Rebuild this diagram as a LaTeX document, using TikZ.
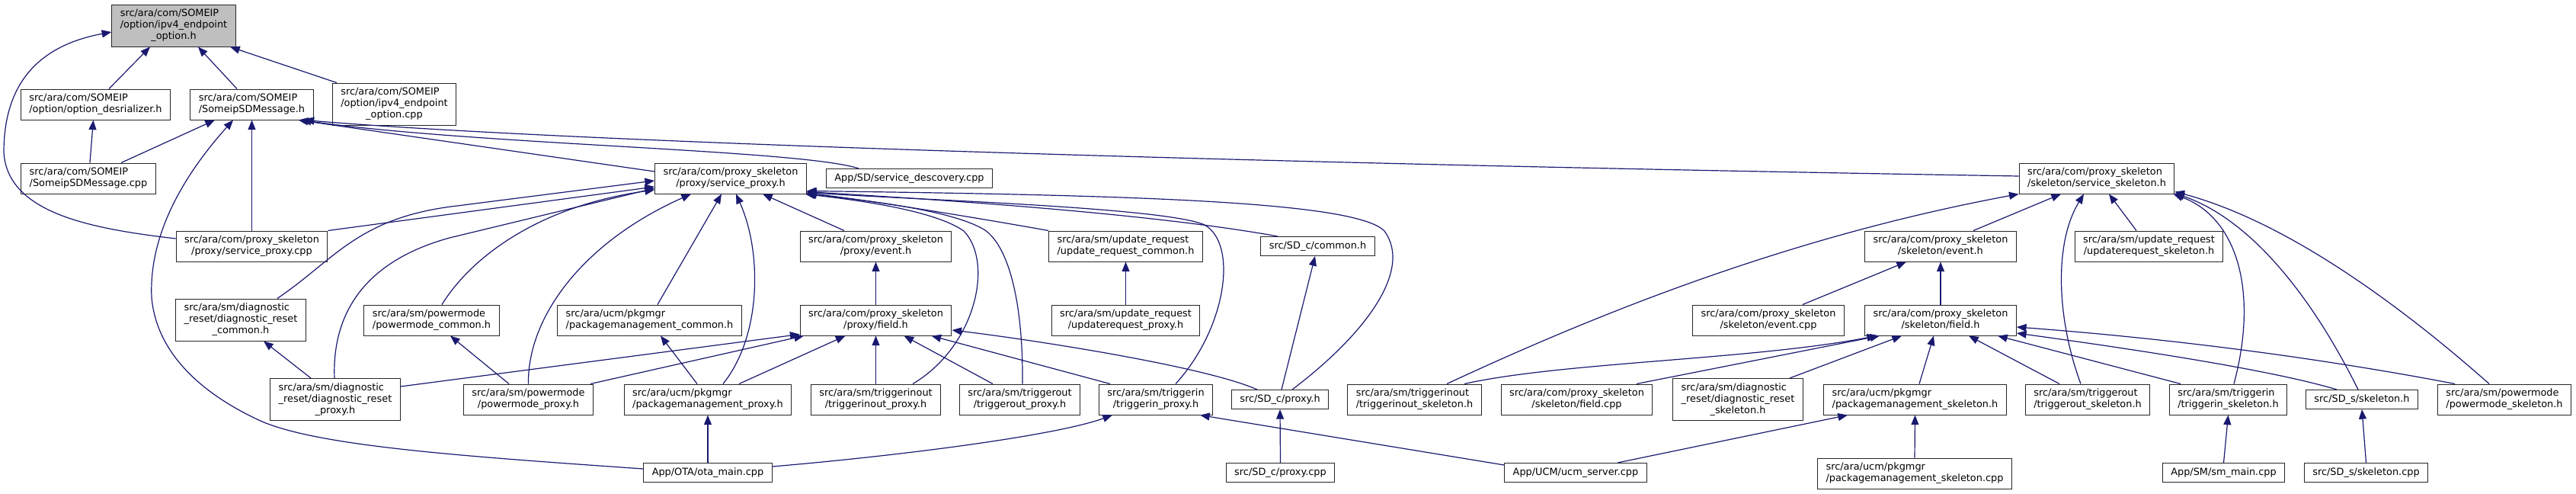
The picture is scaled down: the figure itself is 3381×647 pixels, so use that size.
\documentclass[tikz,border=0pt]{standalone}
\usepackage{fontspec}
\setmainfont{DejaVu Sans}
\usetikzlibrary{arrows.meta,calc}
\definecolor{edgeblue}{HTML}{191970}
\definecolor{rootgray}{HTML}{BFBFBF}
\newcommand{\flab}[2]{\begin{tabular}{@{}l@{}}#1\\\multicolumn{1}{@{}c@{}}{#2}\end{tabular}}
\newcommand{\flone}[1]{\begin{tabular}{@{}c@{}}#1\end{tabular}}
\begin{document}
\begin{tikzpicture}[x=0.75pt,y=-0.75pt,
 b/.style={draw=black!85,fill=white,line width=0.75pt,inner xsep=8.25pt,inner ysep=3.75pt,font=\fontsize{9.65pt}{11.25pt}\selectfont},
 e/.style={draw=edgeblue,line width=0.9pt},
 >={Triangle[length=9.5pt,width=7.5pt]}]
\useasboundingbox (0,0) rectangle (3381,647);
\node[b,fill=rootgray] (root) at (228,33.5) {\flab{src/ara/com/SOMEIP\\/option/ipv4\_endpoint}{\_option.h}};
\node[b] (desr) at (125.5,137) {\flab{src/ara/com/SOMEIP}{/option/option\_desrializer.h}};
\node[b] (msgh) at (330.5,137) {\flab{src/ara/com/SOMEIP}{/SomeipSDMessage.h}};
\node[b] (ipv4cpp) at (517.5,136.5) {\flab{src/ara/com/SOMEIP\\/option/ipv4\_endpoint}{\_option.cpp}};
\node[b] (msgcpp) at (116,234) {\flab{src/ara/com/SOMEIP}{/SomeipSDMessage.cpp}};
\node[b] (spcpp) at (330.5,323) {\flab{src/ara/com/proxy\_skeleton}{/proxy/service\_proxy.cpp}};
\node[b] (diagcom) at (316,419.5) {\flab{src/ara/sm/diagnostic\\\_reset/diagnostic\_reset}{\_common.h}};
\node[b] (diagprx) at (440,524) {\flab{src/ara/sm/diagnostic\\\_reset/diagnostic\_reset}{\_proxy.h}};
\node[b] (pmcom) at (566.5,420) {\flab{src/ara/sm/powermode}{/powermode\_common.h}};
\node[b] (sph) at (959,234) {\flab{src/ara/com/proxy\_skeleton}{/proxy/service\_proxy.h}};
\node[b] (sdcpp) at (1193.5,234) {\flone{App/SD/service\_descovery.cpp}};
\node[b] (pevent) at (1149.5,323) {\flab{src/ara/com/proxy\_skeleton}{/proxy/event.h}};
\node[b] (pkgcom) at (852.5,420) {\flab{src/ara/ucm/pkgmgr}{/packagemanagement\_common.h}};
\node[b] (pfield) at (1149.5,420) {\flab{src/ara/com/proxy\_skeleton}{/proxy/field.h}};
\node[b] (pmprx) at (693.5,524) {\flab{src/ara/sm/powermode}{/powermode\_proxy.h}};
\node[b] (pkgprx) at (929,524) {\flab{src/ara/ucm/pkgmgr}{/packagemanagement\_proxy.h}};
\node[b] (tioprx) at (1149.5,524) {\flab{src/ara/sm/triggerinout}{/triggerinout\_proxy.h}};
\node[b] (ota) at (929,620) {\flone{App/OTA/ota\_main.cpp}};
\node[b] (urcom) at (1477.5,323) {\flab{src/ara/sm/update\_request}{/update\_request\_common.h}};
\node[b] (sdccom) at (1729.5,323) {\flone{src/SD\_c/common.h}};
\node[b] (urprx) at (1477.5,420) {\flab{src/ara/sm/update\_request}{/updaterequest\_proxy.h}};
\node[b] (toprx) at (1338.5,524) {\flab{src/ara/sm/triggerout}{/triggerout\_proxy.h}};
\node[b] (tiprx) at (1517,524) {\flab{src/ara/sm/triggerin}{/triggerin\_proxy.h}};
\node[b] (sdcprx) at (1680,524) {\flone{src/SD\_c/proxy.h}};
\node[b] (sdcprxcpp) at (1680.5,620) {\flone{src/SD\_c/proxy.cpp}};
\node[b] (tioskl) at (1856.5,524) {\flab{src/ara/sm/triggerinout}{/triggerinout\_skeleton.h}};
\node[b] (sfieldcpp) at (2069.5,524) {\flab{src/ara/com/proxy\_skeleton}{/skeleton/field.cpp}};
\node[b] (diagskl) at (2281,524) {\flab{src/ara/sm/diagnostic\\\_reset/diagnostic\_reset}{\_skeleton.h}};
\node[b] (seventcpp) at (2321,420) {\flab{src/ara/com/proxy\_skeleton}{/skeleton/event.cpp}};
\node[b] (ucm) at (2068,620) {\flone{App/UCM/ucm\_server.cpp}};
\node[b] (ssh) at (2752,234) {\flab{src/ara/com/proxy\_skeleton}{/skeleton/service\_skeleton.h}};
\node[b] (sevent) at (2547,323) {\flab{src/ara/com/proxy\_skeleton}{/skeleton/event.h}};
\node[b] (urskl) at (2820.5,323) {\flab{src/ara/sm/update\_request}{/updaterequest\_skeleton.h}};
\node[b] (sfield) at (2547,420) {\flab{src/ara/com/proxy\_skeleton}{/skeleton/field.h}};
\node[b] (pkgskl) at (2513.5,524) {\flab{src/ara/ucm/pkgmgr}{/packagemanagement\_skeleton.h}};
\node[b] (toskl) at (2740,524) {\flab{src/ara/sm/triggerout}{/triggerout\_skeleton.h}};
\node[b] (tiskl) at (2924.5,524) {\flab{src/ara/sm/triggerin}{/triggerin\_skeleton.h}};
\node[b] (pkgsklcpp) at (2513,621) {\flab{src/ara/ucm/pkgmgr}{/packagemanagement\_skeleton.cpp}};
\node[b] (smmain) at (2918.5,620) {\flone{App/SM/sm\_main.cpp}};
\node[b] (sdsh) at (3100,524) {\flone{src/SD\_s/skeleton.h}};
\node[b] (pmskl) at (3287,524) {\flab{src/ara/sm/powermode}{/powermode\_skeleton.h}};
\node[b] (sdscpp) at (3105.5,620) {\flone{src/SD\_s/skeleton.cpp}};
\draw[e,->] ($(desr.north)+(17.5,0)$) -- ($(root.south)+(-31,0)$);
\draw[e,->] ($(msgh.north)+(-19.5,0)$) -- ($(root.south)+(32,0)$);
\draw[e,->] ($(ipv4cpp.north)+(-75.5,0)$) -- ($(root.south)+(74,0)$);
\draw[e,->] ($(spcpp.west)+(0,-10)$) .. controls (120,300) and (10,280) .. (5,200) .. controls (5,110) and (50,60) .. ($(root.west)+(0,8.5)$);
\draw[e,->] ($(msgcpp.north)+(2,0)$) -- ($(desr.south)+(-3,0)$);
\draw[e,->] ($(msgcpp.north)+(43,0)$) -- ($(msgh.south)+(-48.5,0)$);
\draw[e,->] (spcpp.north) -- (msgh.south);
\draw[e,->] ($(ota.west)+(0,-5)$) .. controls (600,598) and (420,585) .. (344,553) .. controls (260,515) and (205,460) .. (199,390) .. controls (195,300) and (250,220) .. ($(msgh.south)+(-24.5,0)$);
\draw[e,->] ($(sph.west)+(0,-9)$) -- ($(msgh.south east)+(-20,0)$);
\draw[e,->] ($(sdcpp.north)+(-66.5,0)$) .. controls (1050,196) and (620,190) .. ($(msgh.south east)+(-16,0)$);
\draw[e,->] ($(ssh.west)+(0,-3)$) .. controls (1500,212) and (700,183) .. ($(msgh.south east)+(-12,0)$);
\draw[e,->] (spcpp.north east) -- ($(sph.west)+(0,11)$);
\draw[e,->] ($(diagcom.north)+(48,0)$) .. controls (440,340) and (470,285) .. (600,270) -- ($(sph.west)+(0,3)$);
\draw[e,->] ($(diagprx.north)+(-1,0)$) .. controls (436,420) and (470,345) .. (590,312) -- ($(sph.west)+(0,13)$);
\draw[e,->] ($(pmcom.north)+(13.5,0)$) .. controls (620,335) and (710,270) .. ($(sph.west)+(0,15)$);
\draw[e,->] (pmprx.north) .. controls (692,420) and (760,320) .. ($(sph.south)+(-52,0)$);
\draw[e,->] ($(pkgcom.north)+(10.5,0)$) -- ($(sph.south)+(-12,0)$);
\draw[e,->] ($(pkgprx.north)+(20,0)$) .. controls (1000,440) and (1000,330) .. ($(sph.south)+(7,0)$);
\draw[e,->] ($(pevent.north)+(-41.5,0)$) -- ($(sph.south)+(42,0)$);
\draw[e,->] ($(tioprx.north)+(48.5,0)$) .. controls (1280,455) and (1305,345) .. (1265,303) .. controls (1225,275) and (1120,262) .. ($(sph.south east)+(-2,0)$);
\draw[e,->] ($(toprx.north)+(3.5,0)$) .. controls (1343,400) and (1325,325) .. (1293,302) .. controls (1250,275) and (1130,262) .. (sph.south east);
\draw[e,->] (urcom.north west) .. controls (1250,280) and (1120,260) .. ($(sph.south east)+(0,-1)$);
\draw[e,->] ($(tiprx.north)+(26,0)$) .. controls (1610,430) and (1625,320) .. (1581,295) .. controls (1530,272) and (1200,262) .. ($(sph.south east)+(0,-2)$);
\draw[e,->] ($(sdccom.north)+(-52.5,0)$) .. controls (1500,278) and (1200,260) .. ($(sph.south east)+(0,-3)$);
\draw[e,->] ($(sdcprx.north)+(16,0)$) .. controls (1790,440) and (1855,355) .. (1817,303) .. controls (1780,265) and (1500,256) .. ($(sph.south east)+(0,-4)$);
\draw[e,->] (pfield.north) -- (pevent.south);
\draw[e,->] ($(diagprx.east)+(0,-17)$) -- ($(pfield.south west)+(0,-2)$);
\draw[e,->] ($(pmprx.north)+(81.5,0)$) -- ($(pfield.south)+(-94.5,0)$);
\draw[e,->] ($(pkgprx.north)+(41,0)$) -- ($(pfield.south)+(-40,0)$);
\draw[e,->] (tioprx.north) -- (pfield.south);
\draw[e,->] ($(toprx.north)+(-35.5,0)$) -- ($(pfield.south)+(37,0)$);
\draw[e,->] ($(tiprx.north)+(-60,0)$) -- ($(pfield.south)+(73,0)$);
\draw[e,->] ($(sdcprx.north)+(-30,0)$) .. controls (1580,480) and (1350,445) .. ($(pfield.east)+(0,13)$);
\draw[e,->] (urprx.north) -- (urcom.south);
\draw[e,->] ($(pkgprx.north)+(-14,0)$) -- ($(pkgcom.south)+(14.5,0)$);
\draw[e,->] ($(pmprx.north)+(-25.5,0)$) -- ($(pmcom.south)+(24.5,0)$);
\draw[e,->] ($(diagprx.north)+(-32,0)$) -- ($(diagcom.south)+(30,0)$);
\draw[e,->] (ota.north) -- (pkgprx.south);
\draw[e,->] ($(ota.east)+(0,-8)$) .. controls (1200,596) and (1390,570) .. ($(tiprx.south)+(-57,0)$);
\draw[e,->] ($(ucm.west)+(0,-10)$) -- ($(tiprx.south)+(58,0)$);
\draw[e,->] ($(sdcprx.north)+(2,0)$) -- ($(sdccom.south)+(-3.5,0)$);
\draw[e,->] (sdcprxcpp.north) -- (sdcprx.south);
\draw[e,->] ($(tioskl.north)+(42.5,0)$) .. controls (2100,410) and (2350,310) .. (ssh.south west);
\draw[e,->] ($(sevent.north)+(43,0)$) -- ($(ssh.south)+(-47,0)$);
\draw[e,->] ($(toskl.north)+(-9,0)$) .. controls (2700,420) and (2695,320) .. ($(ssh.south)+(-17,0)$);
\draw[e,->] ($(urskl.north)+(-16.5,0)$) -- ($(ssh.south)+(16,0)$);
\draw[e,->] ($(tiskl.north)+(7.5,0)$) .. controls (2965,380) and (2935,285) .. ($(ssh.south east)+(-2,0)$);
\draw[e,->] ($(sdsh.north)+(-5,0)$) .. controls (3040,400) and (2960,290) .. ($(ssh.south east)+(0,-1)$);
\draw[e,->] ($(pmskl.north)+(-20,0)$) .. controls (3150,400) and (3000,290) .. ($(ssh.south east)+(0,-3)$);
\draw[e,->] (sfield.north) -- (sevent.south);
\draw[e,->] ($(seventcpp.north)+(45,0)$) -- ($(sevent.south)+(-45,0)$);
\draw[e,->] ($(tioskl.north)+(65.5,0)$) .. controls (2050,475) and (2300,472) .. ($(sfield.south west)+(16,0)$);
\draw[e,->] ($(sfieldcpp.north)+(78.5,0)$) -- ($(sfield.south west)+(20,0)$);
\draw[e,->] ($(diagskl.north)+(68,0)$) -- ($(sfield.south)+(-51,0)$);
\draw[e,->] ($(pkgskl.north)+(5.5,0)$) -- ($(sfield.south)+(-9,0)$);
\draw[e,->] ($(toskl.north)+(-37,0)$) -- ($(sfield.south)+(37,0)$);
\draw[e,->] ($(tiskl.north)+(-62.5,0)$) -- ($(sfield.south)+(75,0)$);
\draw[e,->] ($(sdsh.north)+(-33,0)$) .. controls (2980,485) and (2800,458) .. ($(sfield.east)+(0,17)$);
\draw[e,->] ($(pmskl.north)+(-65,0)$) .. controls (3100,480) and (2900,448) .. ($(sfield.east)+(0,9)$);
\draw[e,->] ($(ucm.north)+(55,0)$) -- ($(pkgskl.south)+(-88.5,0)$);
\draw[e,->] (pkgsklcpp.north) -- (pkgskl.south);
\draw[e,->] (smmain.north) -- (tiskl.south);
\draw[e,->] (sdscpp.north) -- (sdsh.south);
\end{tikzpicture}
\end{document}
